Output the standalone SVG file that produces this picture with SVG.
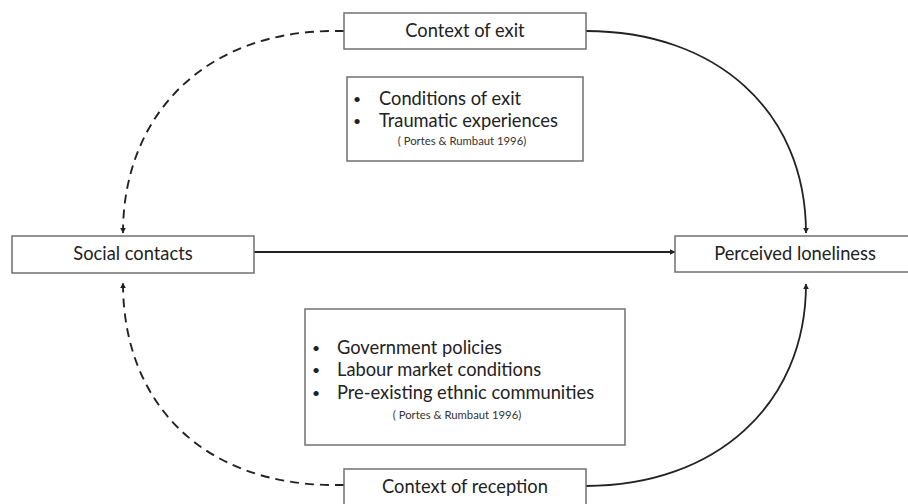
<svg xmlns="http://www.w3.org/2000/svg" width="908" height="504" viewBox="0 0 908 504">
<style>
.box{fill:#fff;stroke:#707070;stroke-width:1.5}
.t{font-family:Lato,"Open Sans","Liberation Sans",sans-serif;font-size:18.3px;fill:#222}
.b{font-family:Lato,"Open Sans","Liberation Sans",sans-serif;font-size:14px;fill:#222}
.c{font-family:Lato,"Open Sans","Liberation Sans",sans-serif;font-size:11.3px;fill:#333}
.solid{fill:none;stroke:#222;stroke-width:1.8}
.dash{fill:none;stroke:#222;stroke-width:1.9;stroke-dasharray:9 6}
</style>
<defs>
<marker id="ah" viewBox="0 0 10 10" refX="9" refY="5" markerWidth="6" markerHeight="6" markerUnits="userSpaceOnUse" orient="auto">
<path d="M0,0 L10,5 L0,10 z" fill="#222"/>
</marker>
</defs>
<rect width="908" height="504" fill="#fff"/>
<g id="connectors">
<path class="dash" d="M344,31 L334,31 C205,31 123,115 123,233" marker-end="url(#ah)"/>
<path class="solid" d="M586,31 C715,31 806,110 806,233" marker-end="url(#ah)"/>
<path class="dash" d="M344,485 L334,485 C205,485 123,405 123,283" marker-end="url(#ah)"/>
<path class="solid" d="M586,486 C715,486 806,405 806,284" marker-end="url(#ah)"/>
<path class="solid" d="M254,252 L675,252" marker-end="url(#ah)"/>
</g>
<g id="exit">
<rect class="box" x="344" y="13" width="242" height="36"/>
<text class="t" x="465" y="37" text-anchor="middle">Context of exit</text>
</g>
<g id="exit-factors">
<rect class="box" x="347" y="77" width="236" height="84"/>
<text class="b" x="353" y="104">•</text>
<text class="t" x="379" y="105">Conditions of exit</text>
<text class="b" x="353" y="126">•</text>
<text class="t" x="379" y="127">Traumatic experiences</text>
<text class="c" x="462" y="145" text-anchor="middle">( Portes &amp; Rumbaut 1996)</text>
</g>
<g id="social">
<rect class="box" x="12" y="236" width="242" height="37"/>
<text class="t" x="133" y="260" text-anchor="middle">Social contacts</text>
</g>
<g id="loneliness">
<rect class="box" x="675" y="236" width="240" height="36"/>
<text class="t" x="795" y="260" text-anchor="middle">Perceived loneliness</text>
</g>
<g id="reception-factors">
<rect class="box" x="305" y="309" width="320" height="136"/>
<text class="b" x="312" y="353">•</text>
<text class="t" x="337" y="354">Government policies</text>
<text class="b" x="312" y="375">•</text>
<text class="t" x="337" y="376">Labour market conditions</text>
<text class="b" x="312" y="398">•</text>
<text class="t" x="337" y="399">Pre-existing ethnic communities</text>
<text class="c" x="457" y="419" text-anchor="middle">( Portes &amp; Rumbaut 1996)</text>
</g>
<g id="reception">
<rect class="box" x="344" y="469" width="242" height="40"/>
<text class="t" x="465" y="493" text-anchor="middle">Context of reception</text>
</g>
</svg>
